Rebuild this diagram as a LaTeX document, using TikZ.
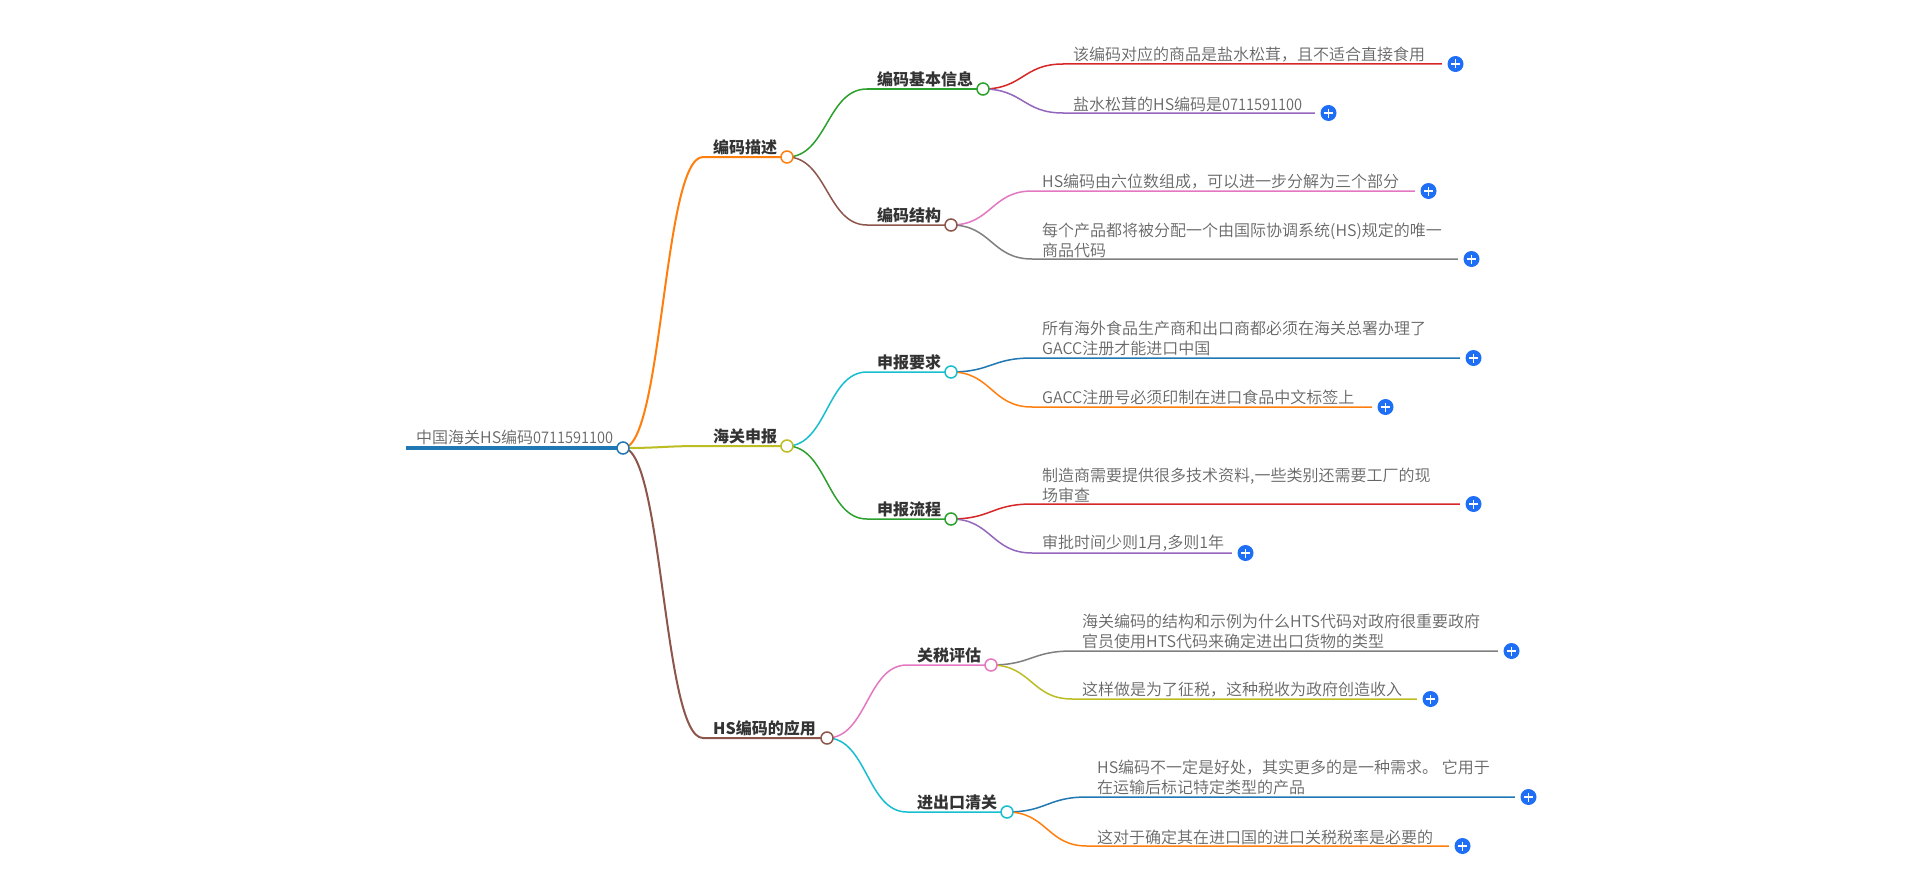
\documentclass[tikz,border=0pt]{standalone}
\usepackage{fontspec}
\setmainfont{Noto Sans CJK SC}
\newfontfamily\lightfont{Noto Sans CJK SC DemiLight}
\newfontfamily\digitfont{Noto Sans CJK SC DemiLight}[FakeStretch=0.91]
\usetikzlibrary{calc}
\pgfdeclarelayer{bg}
\pgfsetlayers{bg,main}
\definecolor{mmblue}{HTML}{1F77B4}
\definecolor{mmorange}{HTML}{FF7F0E}
\definecolor{mmgreen}{HTML}{2CA02C}
\definecolor{mmred}{HTML}{D62728}
\definecolor{mmpurple}{HTML}{9467BD}
\definecolor{mmbrown}{HTML}{8C564B}
\definecolor{mmpink}{HTML}{E377C2}
\definecolor{mmgray}{HTML}{7F7F7F}
\definecolor{mmolive}{HTML}{BCBD22}
\definecolor{mmcyan}{HTML}{17BECF}
\definecolor{plusblue}{HTML}{1F6FF6}
\definecolor{leafgray}{HTML}{666666}
\definecolor{darktext}{HTML}{333333}
\tikzset{
  dot/.style={circle, fill=white, line width=1.5pt, minimum size=12pt, inner sep=0pt},
  leaftext/.style={anchor=south west, inner sep=0pt, text=leafgray, font=\fontsize{16}{20}\selectfont\lightfont, align=left},
  midtext/.style={anchor=base west, inner sep=0pt, text=darktext, font=\fontsize{16}{20}\selectfont\bfseries},
  roottext/.style={anchor=base west, inner sep=0pt, text=leafgray, font=\fontsize{16}{20}\selectfont\lightfont},
  edgeone/.style={line width=2pt},
  edgetwo/.style={line width=1.5pt},
  plusicon/.style={circle, fill=plusblue, minimum size=16pt, inner sep=0pt,
    path picture={\draw[white,line width=1.8pt]
      ([xshift=-4.5pt]path picture bounding box.center) -- ([xshift=4.5pt]path picture bounding box.center)
      ([yshift=-4.5pt]path picture bounding box.center) -- ([yshift=4.5pt]path picture bounding box.center);}}
}
% name, parent, colour, start x, circle x, y, text, edge style
\newcommand\mmnode[8]{%
  \coordinate (#1s) at (#4,#6);
  \node[dot,draw=#3] (#1) at (#5,#6) {};
  \node[midtext] (#1t) at ({#4+10},{#6-4}) {#7};
  \begin{pgfonlayer}{bg}
  \draw[#8,draw=#3] let \p1=(#2.center), \p2=(#1s) in
    (\p1) .. controls ({(\x1+\x2)/2},\y1) and ({(\x1+\x2)/2},\y2) .. (\p2) -- (#1.center);
  \end{pgfonlayer}
}
% name, parent, colour, start x, end x, y, text
\newcommand\mmleaf[7]{%
  \coordinate (#1s) at (#4,#6);
  \node[plusicon] (#1p) at ({#5+13.5},#6) {};
  \node[leaftext] (#1t) at ({#4+10},{#6-1.5}) {#7};
  \begin{pgfonlayer}{bg}
  \draw[edgetwo,draw=#3,shorten >=5.5pt] let \p1=(#2.center), \p2=(#1s) in
    (\p1) .. controls ({(\x1+\x2)/2},\y1) and ({(\x1+\x2)/2},\y2) .. (\p2) -- (#1p.west);
  \end{pgfonlayer}
}
\begin{document}
\begin{tikzpicture}[x=1pt,y=-1pt]
\begin{pgfonlayer}{bg}
\fill[white] (0,0) rectangle (1920,891);
\end{pgfonlayer}
\useasboundingbox (0,0) rectangle (1920,891);
% root
\coordinate (r0) at (406,448);
\node[dot,draw=mmblue] (r) at (623,448) {};
\node[roottext] (rt) at (416,443) {中国海关HS编码{\digitfont 0711591100}};
\begin{pgfonlayer}{bg}
\draw[mmblue,line width=4pt] (r0) -- (r.center);
\end{pgfonlayer}
% level 1
\mmnode{A}{r}{mmorange}{703}{787}{157}{编码描述}{edgeone}
\mmnode{B}{r}{mmolive}{703}{787}{446}{海关申报}{edgeone}
\mmnode{C}{r}{mmbrown}{703}{827}{738}{HS编码的应用}{edgeone}
% level 2
\mmnode{Aa}{A}{mmgreen}{867}{983}{89}{编码基本信息}{edgetwo}
\mmnode{Ab}{A}{mmbrown}{867}{951}{225}{编码结构}{edgetwo}
\mmnode{Ba}{B}{mmcyan}{867}{951}{372}{申报要求}{edgetwo}
\mmnode{Bb}{B}{mmgreen}{867}{951}{519}{申报流程}{edgetwo}
\mmnode{Ca}{C}{mmpink}{907}{991}{665}{关税评估}{edgetwo}
\mmnode{Cb}{C}{mmcyan}{907}{1007}{812}{进出口清关}{edgetwo}
% leaves
\mmleaf{Aa1}{Aa}{mmred}{1063}{1442}{64}{该编码对应的商品是盐水松茸，且不适合直接食用}
\mmleaf{Aa2}{Aa}{mmpurple}{1063}{1315}{113}{盐水松茸的HS编码是{\digitfont 0711591100}}
\mmleaf{Ab1}{Ab}{mmpink}{1032}{1415}{191}{HS编码由六位数组成，可以进一步分解为三个部分}
\mmleaf{Ab2}{Ab}{mmgray}{1032}{1458}{259}{每个产品都将被分配一个由国际协调系统(HS)规定的唯一\\商品代码}
\mmleaf{Ba1}{Ba}{mmblue}{1032}{1460}{358}{所有海外食品生产商和出口商都必须在海关总署办理了\\GACC注册才能进口中国}
\mmleaf{Ba2}{Ba}{mmorange}{1032}{1372}{407}{GACC注册号必须印制在进口食品中文标签上}
\mmleaf{Bb1}{Bb}{mmred}{1032}{1460}{504}{制造商需要提供很多技术资料,一些类别还需要工厂的现\\场审查}
\mmleaf{Bb2}{Bb}{mmpurple}{1032}{1232}{553}{审批时间少则1月,多则1年}
\mmleaf{Ca1}{Ca}{mmgray}{1072}{1498}{651}{海关编码的结构和示例为什么HTS代码对政府很重要政府\\官员使用HTS代码来确定进出口货物的类型}
\mmleaf{Ca2}{Ca}{mmolive}{1072}{1417}{699}{这样做是为了征税，这种税收为政府创造收入}
\mmleaf{Cb1}{Cb}{mmblue}{1087}{1515}{797}{HS编码不一定是好处，其实更多的是一种需求。 它用于\\在运输后标记特定类型的产品}
\mmleaf{Cb2}{Cb}{mmorange}{1087}{1449}{846}{这对于确定其在进口国的进口关税税率是必要的}
\end{tikzpicture}
\end{document}
